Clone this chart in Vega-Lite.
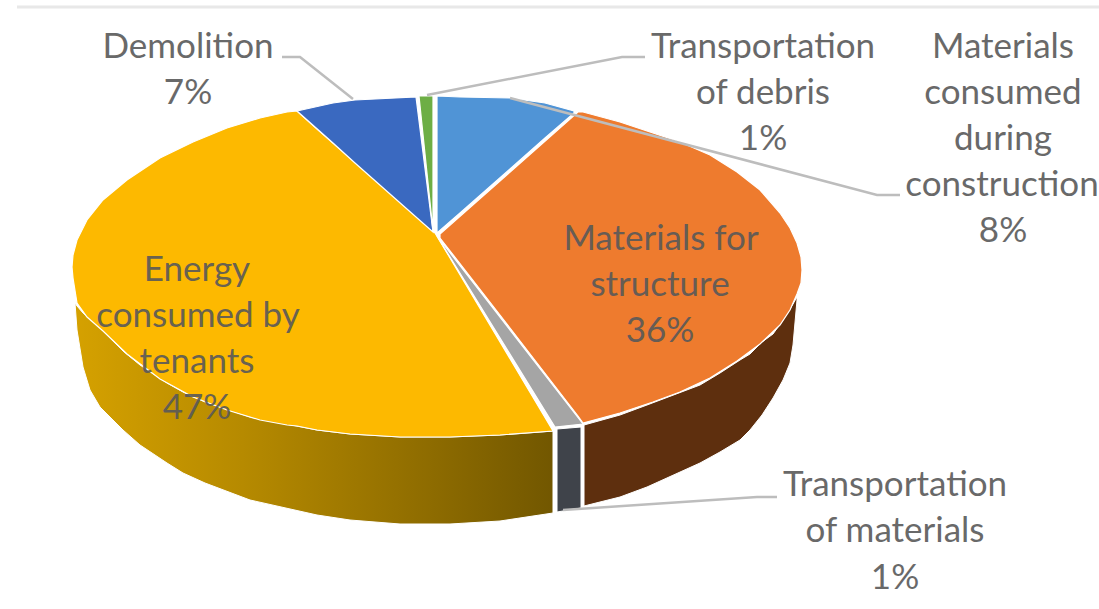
{
  "$schema": "https://vega.github.io/schema/vega-lite/v6.json",
  "width": 1099,
  "height": 609,
  "padding": 0,
  "autosize": {"type": "none"},
  "background": "white",
  "config": {"view": {"stroke": null}},
  "datasets": {
    "walls": [
      {"part":"tenants wall","x":75,"y":303,"y2":303},
      {"part":"tenants wall","x":77,"y":306,"y2":330},
      {"part":"tenants wall","x":83,"y":313,"y2":367},
      {"part":"tenants wall","x":90,"y":319,"y2":390},
      {"part":"tenants wall","x":100,"y":328,"y2":407},
      {"part":"tenants wall","x":123,"y":351,"y2":430},
      {"part":"tenants wall","x":140,"y":365,"y2":445},
      {"part":"tenants wall","x":167,"y":383,"y2":463},
      {"part":"tenants wall","x":183,"y":392,"y2":473},
      {"part":"tenants wall","x":205,"y":402,"y2":483},
      {"part":"tenants wall","x":250,"y":417,"y2":500},
      {"part":"tenants wall","x":317,"y":430,"y2":515},
      {"part":"tenants wall","x":350,"y":434,"y2":520},
      {"part":"tenants wall","x":400,"y":437,"y2":524},
      {"part":"tenants wall","x":450,"y":437,"y2":524},
      {"part":"tenants wall","x":500,"y":435,"y2":521},
      {"part":"tenants wall","x":553,"y":431,"y2":513},
      {"part":"debris wall","x":557,"y":429,"y2":512},
      {"part":"debris wall","x":581,"y":427,"y2":508},
      {"part":"structure wall","x":584,"y":425,"y2":506},
      {"part":"structure wall","x":620,"y":415,"y2":497},
      {"part":"structure wall","x":647,"y":405,"y2":487},
      {"part":"structure wall","x":700,"y":385,"y2":463},
      {"part":"structure wall","x":720,"y":373,"y2":452},
      {"part":"structure wall","x":740,"y":360,"y2":440},
      {"part":"structure wall","x":750,"y":354,"y2":430},
      {"part":"structure wall","x":762,"y":342,"y2":415},
      {"part":"structure wall","x":773,"y":334,"y2":398},
      {"part":"structure wall","x":783,"y":320,"y2":380},
      {"part":"structure wall","x":790,"y":309,"y2":363},
      {"part":"structure wall","x":793,"y":304,"y2":345},
      {"part":"structure wall","x":797,"y":297,"y2":300}
    ],
    "slices": [
      {"part":"Energy consumed by tenants","x":72,"y":267,"y2":267},
      {"part":"Energy consumed by tenants","x":73,"y":255,"y2":278},
      {"part":"Energy consumed by tenants","x":77,"y":240,"y2":303},
      {"part":"Energy consumed by tenants","x":87,"y":220,"y2":317},
      {"part":"Energy consumed by tenants","x":103,"y":200,"y2":331},
      {"part":"Energy consumed by tenants","x":127,"y":180,"y2":354},
      {"part":"Energy consumed by tenants","x":160,"y":158,"y2":379},
      {"part":"Energy consumed by tenants","x":193,"y":142,"y2":397},
      {"part":"Energy consumed by tenants","x":227,"y":128,"y2":410},
      {"part":"Energy consumed by tenants","x":260,"y":118,"y2":420},
      {"part":"Energy consumed by tenants","x":287,"y":112,"y2":425},
      {"part":"Energy consumed by tenants","x":297,"y":111,"y2":426},
      {"part":"Energy consumed by tenants","x":317,"y":129,"y2":430},
      {"part":"Energy consumed by tenants","x":350,"y":158,"y2":434},
      {"part":"Energy consumed by tenants","x":400,"y":202,"y2":437},
      {"part":"Energy consumed by tenants","x":435,"y":233,"y2":437},
      {"part":"Energy consumed by tenants","x":450,"y":258,"y2":437},
      {"part":"Energy consumed by tenants","x":500,"y":342,"y2":435},
      {"part":"Energy consumed by tenants","x":553,"y":431,"y2":431},
      {"part":"Demolition","x":297,"y":111,"y2":111},
      {"part":"Demolition","x":333,"y":103,"y2":143},
      {"part":"Demolition","x":355,"y":100,"y2":163},
      {"part":"Demolition","x":416,"y":97,"y2":217},
      {"part":"Demolition","x":433,"y":232,"y2":232},
      {"part":"Transportation of debris","x":419,"y":96,"y2":96},
      {"part":"Transportation of debris","x":433,"y":96,"y2":231},
      {"part":"Materials consumed during construction","x":437,"y":96,"y2":233},
      {"part":"Materials consumed during construction","x":460,"y":97,"y2":213},
      {"part":"Materials consumed during construction","x":510,"y":98,"y2":169},
      {"part":"Materials consumed during construction","x":545,"y":103,"y2":138},
      {"part":"Materials consumed during construction","x":574,"y":111,"y2":113},
      {"part":"Materials for structure","x":440,"y":234,"y2":238},
      {"part":"Materials for structure","x":500,"y":181,"y2":315},
      {"part":"Materials for structure","x":578,"y":112,"y2":416},
      {"part":"Materials for structure","x":583,"y":112,"y2":423},
      {"part":"Materials for structure","x":620,"y":122,"y2":413},
      {"part":"Materials for structure","x":653,"y":133,"y2":402},
      {"part":"Materials for structure","x":680,"y":142,"y2":392},
      {"part":"Materials for structure","x":710,"y":155,"y2":378},
      {"part":"Materials for structure","x":737,"y":172,"y2":361},
      {"part":"Materials for structure","x":760,"y":190,"y2":344},
      {"part":"Materials for structure","x":780,"y":213,"y2":325},
      {"part":"Materials for structure","x":790,"y":228,"y2":310},
      {"part":"Materials for structure","x":797,"y":243,"y2":294},
      {"part":"Materials for structure","x":801,"y":257,"y2":283},
      {"part":"Materials for structure","x":802,"y":270,"y2":270},
      {"part":"Transportation of materials","x":437,"y":236,"y2":236},
      {"part":"Transportation of materials","x":555,"y":388,"y2":427},
      {"part":"Transportation of materials","x":583,"y":424,"y2":424}
    ],
    "leaders": [
      {"leader":"demolition","seq":1,"x":282,"y":57},
      {"leader":"demolition","seq":2,"x":300,"y":57},
      {"leader":"demolition","seq":3,"x":353,"y":99},
      {"leader":"debris","seq":1,"x":427,"y":95},
      {"leader":"debris","seq":2,"x":622,"y":57},
      {"leader":"debris","seq":3,"x":645,"y":57},
      {"leader":"construction","seq":1,"x":510,"y":98},
      {"leader":"construction","seq":2,"x":877,"y":195},
      {"leader":"construction","seq":3,"x":900,"y":195},
      {"leader":"materials","seq":1,"x":563,"y":510},
      {"leader":"materials","seq":2,"x":757,"y":497},
      {"leader":"materials","seq":3,"x":777,"y":497}
    ],
    "frame": [
      {"seq":1,"x":17,"y":7},
      {"seq":2,"x":1099,"y":7}
    ],
    "labels": [
      {"line":"Demolition","x":188,"y":47},
      {"line":"7%","x":188,"y":93},
      {"line":"Transportation","x":763,"y":47},
      {"line":"of debris","x":763,"y":93},
      {"line":"1%","x":763,"y":139},
      {"line":"Materials","x":1003,"y":47},
      {"line":"consumed","x":1003,"y":93},
      {"line":"during","x":1003,"y":139},
      {"line":"construction","x":1002,"y":185},
      {"line":"8%","x":1003,"y":231},
      {"line":"Materials for","x":661,"y":239},
      {"line":"structure","x":660,"y":285},
      {"line":"36%","x":660,"y":331},
      {"line":"Energy","x":197,"y":270},
      {"line":"consumed by","x":198,"y":316},
      {"line":"tenants","x":197,"y":362},
      {"line":"47%","x":197,"y":408},
      {"line":"Transportation","x":895,"y":485},
      {"line":"of materials","x":895,"y":531},
      {"line":"1%","x":895,"y":578}
    ]
  },
  "encoding": {
    "x": {"field": "x", "type": "quantitative", "scale": {"domain": [0, 1099], "nice": false, "zero": false}, "axis": null},
    "y": {"field": "y", "type": "quantitative", "scale": {"domain": [609, 0], "nice": false, "zero": false}, "axis": null, "stack": null}
  },
  "layer": [
    {
      "data": {"name": "frame"},
      "mark": {"type": "line", "stroke": "#E8E8E8", "strokeWidth": 3},
      "encoding": {"order": {"field": "seq", "type": "quantitative"}}
    },
    {
      "data": {"name": "walls"},
      "transform": [{"filter": "datum.part === 'tenants wall'"}],
      "mark": {
        "type": "area", "orient": "vertical", "stroke": "white", "strokeWidth": 1,
        "color": {"gradient": "linear", "x1": 0, "y1": 0, "x2": 1, "y2": 0,
          "stops": [
            {"offset": 0, "color": "#D5A100"},
            {"offset": 0.35, "color": "#B68A00"},
            {"offset": 0.75, "color": "#8D6B00"},
            {"offset": 1, "color": "#725700"}
          ]},
        "tooltip": null
      },
      "encoding": {"y2": {"field": "y2"}}
    },
    {
      "data": {"name": "walls"},
      "transform": [{"filter": "datum.part !== 'tenants wall'"}],
      "mark": {"type": "area", "orient": "vertical", "stroke": "white", "strokeWidth": 1},
      "encoding": {
        "y2": {"field": "y2"},
        "color": {"field": "part", "type": "nominal", "legend": null,
          "scale": {"domain": ["debris wall", "structure wall"], "range": ["#3F434A", "#5E2F0E"]}}
      }
    },
    {
      "data": {"name": "slices"},
      "mark": {"type": "area", "orient": "vertical", "stroke": "white", "strokeWidth": 1.2},
      "encoding": {
        "y2": {"field": "y2"},
        "fill": {"field": "part", "type": "nominal", "legend": null,
          "scale": {
            "domain": ["Energy consumed by tenants", "Demolition", "Transportation of debris", "Materials consumed during construction", "Materials for structure", "Transportation of materials"],
            "range": ["#FDB900", "#3A69C0", "#6DAE45", "#5094D6", "#EE7B2E", "#A5A5A5"]
          }}
      }
    },
    {
      "data": {"name": "leaders"},
      "mark": {"type": "line", "stroke": "#BDBDBD", "strokeWidth": 2.5},
      "encoding": {
        "detail": {"field": "leader"},
        "order": {"field": "seq", "type": "quantitative"}
      }
    },
    {
      "data": {"name": "labels"},
      "mark": {"type": "text", "font": "Lato", "fontSize": 35, "color": "#595959", "opacity": 0.9, "align": "center", "baseline": "middle"},
      "encoding": {"text": {"field": "line"}}
    }
  ]
}
